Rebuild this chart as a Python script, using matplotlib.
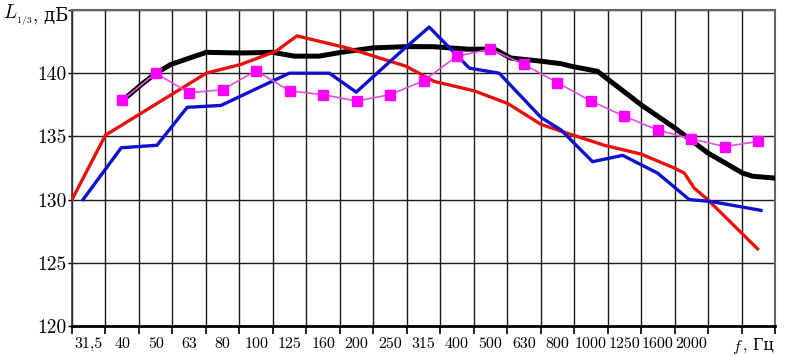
import numpy as np
import matplotlib.pyplot as plt
from matplotlib import transforms

plt.rcParams['font.family'] = ['cmr10', 'DejaVu Serif']
plt.rcParams['mathtext.fontset'] = 'cm'
plt.rcParams['axes.unicode_minus'] = False

# ---- данные ----
# подписи третьоктавных полос (индекс полосы = позиция по оси x)
band_labels = ['31,5', '40', '50', '63', '80', '100', '125', '160', '200', '250',
               '315', '400', '500', '630', '800', '1000', '1250', '1600', '2000',
               '', '']
x_axis_name = ('$f$', ', Гц')
y_axis_name = ('$L_{_{1/3}}$', ', дБ')
y_ticks = [120, 125, 130, 135, 140, 145]
y_tick_labels = ['120', '125', '130', '135', '140', '']

# чёрная кривая (индекс полосы, уровень дБ)
black_x = [1.17, 1.57, 2.01, 2.46, 3.51, 4.55, 5.50, 6.14, 6.88, 7.54, 8.48, 9.48,
           10.28, 11.32, 12.12, 12.61, 13.51, 14.11, 14.41, 15.20, 16.50, 17.49,
           18.49, 19.53, 19.83, 20.5]
black_y = [138.2, 139.1, 140.0, 140.7, 141.65, 141.6, 141.65, 141.35, 141.35, 141.65,
           142.0, 142.1, 142.1, 141.9, 141.9, 141.2, 140.95, 140.75, 140.55, 140.15,
           137.5, 135.7, 133.7, 132.1, 131.85, 131.7]

# красная кривая
red_x = [-0.5, 0.5, 3.51, 4.55, 5.60, 6.22, 7.79, 9.48, 10.32, 11.52, 12.52, 13.51,
         14.41, 15.40, 16.50, 17.49, 17.79, 18.09, 18.49, 19.98]
red_y = [130.0, 135.1, 140.0, 140.7, 141.75, 142.95, 141.95, 140.55, 139.35, 138.6,
         137.6, 135.95, 135.15, 134.3, 133.6, 132.5, 132.1, 130.9, 130.0, 126.1]

# синяя кривая
blue_x = [-0.17, 0.97, 2.04, 2.94, 3.95, 5.99, 7.19, 7.99, 9.28, 10.17, 11.37, 12.26,
          13.51, 14.11, 15.05, 15.95, 16.99, 17.94, 18.59, 20.08]
blue_y = [130.0, 134.1, 134.3, 137.3, 137.45, 140.0, 140.0, 138.5, 141.6, 143.65,
          140.4, 140.0, 136.5, 135.5, 133.0, 133.5, 132.1, 130.0, 129.85, 129.15]

# розовая кривая с маркерами (значения в центрах полос 40 Гц ... )
pink_bands = list(range(1, 21))
pink_y = [137.85, 140.0, 138.45, 138.7, 140.2, 138.6, 138.3, 137.8, 138.3, 139.4,
          141.35, 141.9, 140.7, 139.25, 137.8, 136.6, 135.5, 134.8, 134.2, 134.6]

# ---- построение ----
W, H = 786, 355
fig = plt.figure(figsize=(W / 100, H / 100), dpi=100)
ax = fig.add_axes([72 / W, 29 / H, 703 / W, 316 / H])

ax.plot(black_x, black_y, color='black', lw=3.6, solid_joinstyle='round', zorder=3)
ax.plot(red_x, red_y, color='#e8120c', lw=2.4, zorder=4)
ax.plot(blue_x, blue_y, color='#1010d0', lw=2.4, zorder=5)
ax.plot(pink_bands, pink_y, color='#e050e0', lw=1.2, marker='s', ms=7.5,
        mfc='#ff00ff', mec='#ff00ff', zorder=6)

n = len(band_labels)
ax.set_xlim(-0.5, n - 0.5)
ax.set_ylim(120, 145)

# границы полос — сетка и засечки, подписи — по центрам полос
ax.set_xticks(np.arange(-0.5, n, 1))
ax.set_xticklabels([])
ax.set_xticks(np.arange(n), minor=True)
ax.set_xticklabels(band_labels, minor=True, fontsize=11.5)
ax.tick_params(axis='x', which='major', direction='out', length=6, width=1.2)
ax.tick_params(axis='x', which='minor', length=0, pad=8)

ax.set_yticks(y_ticks)
ax.set_yticklabels(y_tick_labels, fontsize=14)
ax.tick_params(axis='y', direction='out', length=3, width=1.0, pad=1)

ax.grid(which='major', color='#1a1a1a', lw=1.0, zorder=1)

ax.spines['bottom'].set_linewidth(2.0)
ax.spines['bottom'].set_color('black')
ax.spines['left'].set_linewidth(1.2)
ax.spines['left'].set_color('#333333')
for s in ('top', 'right'):
    ax.spines[s].set_linewidth(1.5)
    ax.spines[s].set_color('#666666')

# подпись оси частот на месте последней полосы
tr = transforms.blended_transform_factory(ax.transData, ax.transAxes)
ax.annotate(x_axis_name[0], (n - 1.45, 0), xycoords=tr, xytext=(0, -8.5),
            textcoords='offset points', ha='right', va='top', fontsize=11.5)
ax.annotate(x_axis_name[1], (n - 1.45, 0), xycoords=tr, xytext=(0, -8.5),
            textcoords='offset points', ha='left', va='top', fontsize=11.5)

# подпись оси уровней
fig.text(33 / W, 1 - 15 / H, y_axis_name[0], ha='right', va='center', fontsize=14)
fig.text(33 / W, 1 - 15 / H, y_axis_name[1], ha='left', va='center', fontsize=13)

fig.savefig('out.png', dpi=100)
